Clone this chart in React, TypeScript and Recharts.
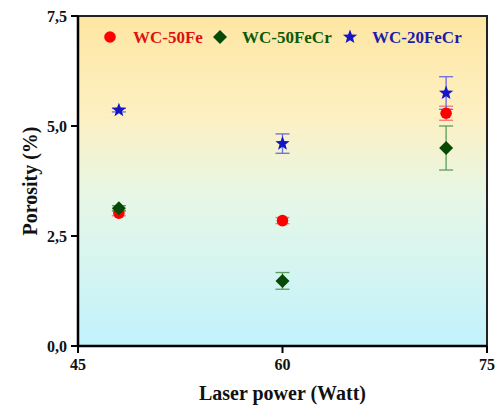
import React from 'react';
import { ScatterChart, Scatter, XAxis, YAxis, ErrorBar, ReferenceArea, Legend } from 'recharts';

const powers = [48, 60, 72];
const wc50Fe = [3.02, 2.85, 5.29];
const wc50FeErr = [0.06, 0.07, 0.16];
const wc50FeCr = [3.13, 1.48, 4.5];
const wc50FeCrErr = [0.06, 0.19, 0.5];
const wc20FeCr = [5.36, 4.6, 5.75];
const wc20FeCrErr = [0.04, 0.22, 0.37];

const xTicks = [45, 60, 75];
const yTicks = [0, 2.5, 5, 7.5];

const FONT = "'Liberation Serif', 'Times New Roman', serif";

const build = (ys: number[], errs: number[]) =>
  powers.map((x, i) => ({ x, y: ys[i], err: errs[i] }));

const dFe = build(wc50Fe, wc50FeErr);
const dFeCr = build(wc50FeCr, wc50FeCrErr);
const d20 = build(wc20FeCr, wc20FeCrErr);

const starPath = (cx: number, cy: number, R: number) => {
  const r = R * 0.42;
  let d = '';
  for (let i = 0; i < 10; i++) {
    const rad = i % 2 === 0 ? R : r;
    const a = -Math.PI / 2 + (i * Math.PI) / 5;
    d += (i === 0 ? 'M' : 'L') + (cx + rad * Math.cos(a)).toFixed(2) + ',' + (cy + rad * Math.sin(a)).toFixed(2);
  }
  return d + 'Z';
};

const CircleShape = (p: any) => <circle cx={p.cx} cy={p.cy} r={5.8} fill="#ff0000" />;
const DiamondShape = (p: any) => (
  <path d={`M${p.cx},${p.cy - 7}L${p.cx + 7},${p.cy}L${p.cx},${p.cy + 7}L${p.cx - 7},${p.cy}Z`} fill="#064a06" />
);
const StarShape = (p: any) => <path d={starPath(p.cx, p.cy, 7.5)} fill="#1414c8" />;

const series = [
  { name: 'WC-50Fe', color: '#e01010', icon: 'circle' },
  { name: 'WC-50FeCr', color: '#0b5a0b', icon: 'diamond' },
  { name: 'WC-20FeCr', color: '#1c1ca8', icon: 'star' },
];
const legendIconX = [102, 212, 342];
const legendTextX = [125, 234, 364];

const LegendContent = () => (
  <svg width={491} height={30} style={{ display: 'block' }}>
    {series.map((s, i) => {
      const cx = legendIconX[i];
      const cy = 13;
      let icon;
      if (s.icon === 'circle') icon = <circle cx={cx} cy={cy} r={5.8} fill="#ff0000" />;
      else if (s.icon === 'diamond')
        icon = <path d={`M${cx},${cy - 7}L${cx + 7},${cy}L${cx},${cy + 7}L${cx - 7},${cy}Z`} fill="#064a06" />;
      else icon = <path d={starPath(cx, cy, 7.5)} fill="#1414c8" />;
      return (
        <g key={s.name}>
          {icon}
          <text x={legendTextX[i]} y={cy + 6} fill={s.color} fontFamily={FONT} fontWeight="bold" fontSize={17}>
            {s.name}
          </text>
        </g>
      );
    })}
  </svg>
);

const fmt = (v: number) => v.toFixed(1).replace('.', ',');

export default function App() {
  return (
    <div style={{ position: 'fixed', left: 0, top: 0, width: 499, height: 406, background: '#fff' }}>
      <ScatterChart width={499} height={406} margin={{ top: 16, right: 12, left: 18, bottom: 20 }}>
        <defs>
          <linearGradient id="bgGrad" x1="0" y1="0" x2="0" y2="1">
            <stop offset="0%" stopColor="#fee6a2" />
            <stop offset="30%" stopColor="#fdf0c2" />
            <stop offset="55%" stopColor="#e6f7e6" />
            <stop offset="100%" stopColor="#c2f2fd" />
          </linearGradient>
        </defs>
        <ReferenceArea x1={45} x2={75} y1={0} y2={7.5} fill="url(#bgGrad)" fillOpacity={1} stroke="#222" strokeWidth={2} />
        <XAxis
          type="number"
          dataKey="x"
          domain={[45, 75]}
          ticks={xTicks}
          allowDataOverflow
          height={40}
          tickSize={7}
          tickMargin={6}
          axisLine={{ stroke: '#000', strokeWidth: 2.5 }}
          tickLine={{ stroke: '#000', strokeWidth: 2 }}
          tick={{ fill: '#111', fontFamily: FONT, fontWeight: 'bold', fontSize: 16 }}
          label={{
            content: (props: any) => {
              const vb = props.viewBox;
              return (
                <text x={vb.x + vb.width / 2} y={vb.y + 54} textAnchor="middle" fill="#111" fontFamily={FONT} fontWeight="bold" fontSize={20}>
                  Laser power (Watt)
                </text>
              );
            },
          }}
        />
        <YAxis
          type="number"
          dataKey="y"
          domain={[0, 7.5]}
          ticks={yTicks}
          allowDataOverflow
          width={60}
          tickSize={7}
          tickMargin={4}
          tickFormatter={fmt}
          axisLine={{ stroke: '#000', strokeWidth: 2.5 }}
          tickLine={{ stroke: '#000', strokeWidth: 2 }}
          tick={{ fill: '#111', fontFamily: FONT, fontWeight: 'bold', fontSize: 16 }}
          label={{
            content: (props: any) => {
              const vb = props.viewBox;
              const cx = vb.x + 12;
              const cy = vb.y + vb.height / 2;
              return (
                <text x={cx} y={cy} transform={`rotate(-90 ${cx} ${cy})`} textAnchor="middle" dominantBaseline="central" fill="#111" fontFamily={FONT} fontWeight="bold" fontSize={20}>
                  Porosity (%)
                </text>
              );
            },
          }}
        />
        <Legend
          layout="horizontal"
          verticalAlign="middle"
          align="center"
          content={<LegendContent />}
          wrapperStyle={{ position: 'absolute', left: 8, top: 24, width: 491, height: 30 }}
        />
        <Scatter name="WC-50Fe" data={dFe} shape={CircleShape} isAnimationActive={false}>
          <ErrorBar dataKey="err" direction="y" width={7} stroke="#f07a7a" strokeWidth={1.3} />
        </Scatter>
        <Scatter name="WC-50FeCr" data={dFeCr} shape={DiamondShape} isAnimationActive={false}>
          <ErrorBar dataKey="err" direction="y" width={7} stroke="#5c9c5c" strokeWidth={1.3} />
        </Scatter>
        <Scatter name="WC-20FeCr" data={d20} shape={StarShape} isAnimationActive={false}>
          <ErrorBar dataKey="err" direction="y" width={7} stroke="#6a6ae0" strokeWidth={1.3} />
        </Scatter>
      </ScatterChart>
    </div>
  );
}
